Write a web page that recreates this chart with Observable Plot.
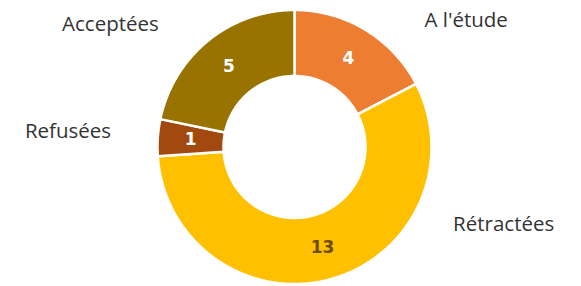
<!DOCTYPE html>
<html>
<head>
<meta charset="utf-8">
<script src="https://cdn.jsdelivr.net/npm/d3@7"></script>
<script src="https://cdn.jsdelivr.net/npm/@observablehq/plot@0.6"></script>
<style>
  html, body { margin: 0; padding: 0; background: #fff; }
  #chart { width: 581px; height: 286px; }
</style>
</head>
<body>
<div id="chart"></div>
<script>
// ---- data ----
const categories = ["A l'étude", "Rétractées", "Refusées", "Acceptées"];
const values = [4, 13, 1, 5];
const colors = ["#ED7D31", "#FFC000", "#A2490F", "#997300"];
const valueLabelColors = ["#ffffff", "#6e4c00", "#ffffff", "#ffffff"];

// ---- layout (pixel units, centre of the ring at 0,0) ----
const outerR = 137, innerR = 71, valueR = 104;
// outer category labels, placed in polar terms (degrees clockwise from top, radius)
const labelAngle = [53.7, 110.3, 273.9, 303.6];
const labelRadius = [213, 223, 227, 221];

const total = d3.sum(values);
const rad = (deg) => deg * Math.PI / 180;
const px = (a, r) => r * Math.sin(rad(a));
const py = (a, r) => r * Math.cos(rad(a));

// build slices
let start = 0;
const slices = categories.map((c, i) => {
  const sweep = values[i] / total * 360;
  const s = {cat: c, value: values[i], a0: start, a1: start + sweep, mid: start + sweep / 2, i};
  start += sweep;
  return s;
});

const ringPts = [];
for (const s of slices) {
  const n = Math.max(2, Math.ceil((s.a1 - s.a0) / 1));
  const pts = [];
  for (let k = 0; k <= n; k++) { const a = s.a0 + (s.a1 - s.a0) * k / n; pts.push([a, outerR]); }
  for (let k = n; k >= 0; k--) { const a = s.a0 + (s.a1 - s.a0) * k / n; pts.push([a, innerR]); }
  pts.push(pts[0]);
  for (const [a, r] of pts) ringPts.push({cat: s.cat, x: px(a, r), y: py(a, r)});
}

const valueLabels = slices.map(s => ({text: String(s.value), x: px(s.mid, valueR), y: py(s.mid, valueR), color: valueLabelColors[s.i]}));
const catLabels = slices.map(s => ({text: s.cat, x: px(labelAngle[s.i], labelRadius[s.i]), y: py(labelAngle[s.i], labelRadius[s.i])}));

const chart = Plot.plot({
  width: 581,
  height: 286,
  margin: 0,
  x: {domain: [-294, 287], axis: null},
  y: {domain: [-139.5, 146.5], axis: null},
  color: {domain: categories, range: colors},
  style: {background: "#fff"},
  marks: [
    Plot.line(ringPts, {x: "x", y: "y", z: "cat", fill: "cat", stroke: "#fff", strokeWidth: 2.5, strokeLinejoin: "miter"}),
    Plot.text(valueLabels, {x: "x", y: "y", text: "text", fill: "color", fontSize: 17, fontWeight: "bold", fontFamily: "DejaVu Sans", textAnchor: "middle", lineAnchor: "middle"}),
    Plot.text(catLabels, {x: "x", y: "y", text: "text", fill: "#333333", fontSize: 20.5, fontFamily: "Open Sans", textAnchor: "middle", lineAnchor: "middle"})
  ]
});
document.getElementById("chart").appendChild(chart);
</script>
</body>
</html>
